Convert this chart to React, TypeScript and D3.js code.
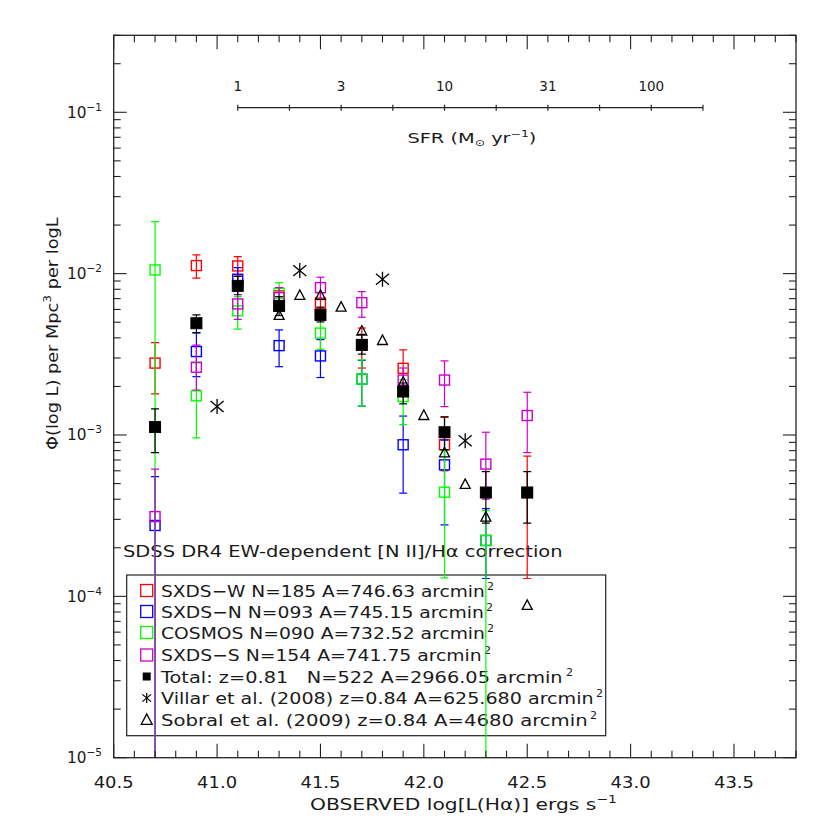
import React, { useLayoutEffect, useRef, useState } from "react";
import * as d3 from "d3";

// ---------------- data ----------------
const xTickValues = [40.5, 41.0, 41.5, 42.0, 42.5, 43.0, 43.5];
const xTickLabels = ["40.5", "41.0", "41.5", "42.0", "42.5", "43.0", "43.5"];
const yDecades = [1e-5, 1e-4, 1e-3, 1e-2, 1e-1];
const yExponents = ["\u22125", "\u22124", "\u22123", "\u22122", "\u22121"];

const sfrTickLum = [41.1, 41.35, 41.6, 41.85, 42.1, 42.35, 42.6, 42.85, 43.1, 43.35];
const sfrLabelLum = [41.1, 41.6, 42.1, 42.6, 43.1];
const sfrLabels = ["1", "3", "10", "31", "100"];

// SXDS-W (red)
const wLum = [40.7, 40.9, 41.1, 41.3, 41.5, 41.7, 41.9, 42.1, 42.5];
const wPhi = [0.00279, 0.01122, 0.01116, 0.00728, 0.00656, 0.0036, 0.00259, 0.00087, 0.00044];
const wHi = [0.00374, 0.01306, 0.01274, 0.0082, 0.0076, 0.0046, 0.00337, 0.0013, 0.00074];
const wLo = [0.0018, 0.00937, 0.0097, 0.0064, 0.0057, 0.0026, 0.002, 0.0006, 0.000129];

// SXDS-N (blue)
const nLum = [40.7, 40.9, 41.1, 41.3, 41.5, 41.7, 41.9, 42.1, 42.3];
const nPhi = [0.000275, 0.00329, 0.00923, 0.00358, 0.00309, 0.00222, 0.00087, 0.000653, 0.000222];
const nHi = [0.000552, 0.0043, 0.01089, 0.00448, 0.0039, 0.0029, 0.00131, 0.00093, 0.00035];
const nLo = [0, 0.0023, 0.0079, 0.00265, 0.00227, 0.00151, 0.000436, 0.000277, 0.000129];

// COSMOS (green)
const cLum = [40.7, 40.9, 41.1, 41.3, 41.5, 41.7, 41.9, 42.1, 42.3];
const cPhi = [0.01054, 0.00175, 0.00588, 0.00756, 0.00428, 0.00222, 0.00173, 0.000442, 0.000222];
const cHi = [0.021, 0.0028, 0.0072, 0.00879, 0.0053, 0.00292, 0.0022, 0.0008, 0.00034];
const cLo = [0, 0.00096, 0.00453, 0.0065, 0.0034, 0.00151, 0.00116, 0.00013, 0];

// SXDS-S (magenta)
const sLum = [40.7, 40.9, 41.1, 41.3, 41.5, 41.7, 41.9, 42.1, 42.3, 42.5];
const sPhi = [0.000312, 0.00263, 0.00649, 0.0071, 0.00819, 0.00661, 0.00219, 0.00219, 0.00066, 0.00132];
const sHi = [0.000614, 0.00361, 0.0079, 0.0082, 0.0095, 0.00774, 0.0026, 0.00288, 0.00104, 0.00184];
const sLo = [0, 0.0019, 0.0052, 0.0062, 0.0069, 0.00537, 0.0019, 0.0015, 0.0004, 0.000778];

// Total (black filled)
const tLum = [40.7, 40.9, 41.1, 41.3, 41.5, 41.7, 41.9, 42.1, 42.3, 42.5];
const tPhi = [0.00112, 0.00493, 0.0084, 0.00631, 0.00555, 0.00362, 0.00186, 0.00104, 0.00044, 0.00044];
const tHi = [0.00145, 0.00555, 0.0096, 0.0072, 0.0062, 0.0042, 0.0021, 0.00129, 0.000593, 0.000593];
const tLo = [0.000778, 0.00431, 0.0074, 0.0055, 0.00502, 0.00317, 0.00156, 0.00081, 0.000284, 0.000284];

// Villar et al. (2008)
const vLum = [41.0, 41.4, 41.8, 42.2];
const vPhi = [0.0015, 0.01044, 0.00923, 0.00092];

// Sobral et al. (2009)
const soLum = [41.3, 41.4, 41.5, 41.6, 41.7, 41.8, 41.9, 42.0, 42.1, 42.2, 42.3, 42.5];
const soPhi = [0.00555, 0.00738, 0.00738, 0.00625, 0.00444, 0.00388, 0.00214, 0.00133, 0.00078, 0.000498, 0.000312, 8.85e-5];

const legendLabels = [
  "SXDS\u2212W N=185 A=746.63 arcmin",
  "SXDS\u2212N N=093 A=745.15 arcmin",
  "COSMOS N=090 A=732.52 arcmin",
  "SXDS\u2212S N=154 A=741.75 arcmin",
  "Total: z=0.81   N=522 A=2966.05 arcmin",
  "Villar et al. (2008) z=0.84 A=625.680 arcmin",
  "Sobral et al. (2009) z=0.84 A=4680 arcmin",
];

// ---------------- layout ----------------
const X0 = 113.7, X1 = 796, Y0 = 35.3, Y1 = 757.7;
const FONT = "'DejaVu Sans', sans-serif";
const RED = "#ff0000", BLUE = "#0000ff", GREEN = "#00ff00", MAG = "#cc00cc";
const INK = "#1a1a1a";
const FW = 400;

const x = d3.scaleLinear().domain([40.5, 43.8]).range([X0, X1]);
const y = d3.scaleLog().domain([1e-5, 0.3]).range([Y1, Y0]);

type FitProps = {
  x: number; y: number; width: number; rotate?: number; fontSize?: number;
  anchor?: "start" | "middle" | "end"; children: React.ReactNode;
};
function FitText({ x: px, y: py, width, rotate = 0, fontSize = 16, anchor = "start", children }: FitProps) {
  const ref = useRef<SVGTextElement>(null);
  const [s, setS] = useState(1);
  useLayoutEffect(() => {
    if (ref.current) {
      const w = ref.current.getBBox().width;
      if (w > 0) setS(width / w);
    }
  }, [width]);
  const tx = anchor === "middle" ? -width / 2 : anchor === "end" ? -width : 0;
  return (
    <g transform={`translate(${px},${py}) rotate(${rotate})`}>
      <g transform={`translate(${tx},0) scale(${s},1)`}>
        <text ref={ref} x={0} y={0} fontSize={fontSize} fontWeight={FW} fill={INK} style={{ whiteSpace: "pre" }}>
          {children}
        </text>
      </g>
    </g>
  );
}

type Series = { lum: number[]; phi: number[]; hi: number[]; lo: number[]; color: string; filled: boolean };
const openSeries: Series[] = [
  { lum: wLum, phi: wPhi, hi: wHi, lo: wLo, color: RED, filled: false },
  { lum: nLum, phi: nPhi, hi: nHi, lo: nLo, color: BLUE, filled: false },
  { lum: cLum, phi: cPhi, hi: cHi, lo: cLo, color: GREEN, filled: false },
  { lum: sLum, phi: sPhi, hi: sHi, lo: sLo, color: MAG, filled: false },
  { lum: tLum, phi: tPhi, hi: tHi, lo: tLo, color: "#000", filled: true },
];

function ErrPoint({ s, i }: { s: Series; i: number }) {
  const cx = x(s.lum[i]);
  const cy = y(s.phi[i]);
  const yh = y(s.hi[i]);
  const loOff = s.lo[i] <= 1e-5;
  const yl = loOff ? Y1 + 2 : y(s.lo[i]);
  const cap = 4;
  const sz = s.filled ? 11 : 10;
  return (
    <g>
      <line x1={cx} x2={cx} y1={yh} y2={yl} stroke={s.color} strokeWidth={1.2} />
      <line x1={cx - cap} x2={cx + cap} y1={yh} y2={yh} stroke={s.color} strokeWidth={1.2} />
      {!loOff && <line x1={cx - cap} x2={cx + cap} y1={yl} y2={yl} stroke={s.color} strokeWidth={1.2} />}
      <rect
        x={cx - sz / 2}
        y={cy - sz / 2}
        width={sz}
        height={sz}
        fill={s.filled ? "#000" : "none"}
        stroke={s.color}
        strokeWidth={s.filled ? 1 : 1.4}
      />
    </g>
  );
}

function Asterisk({ cx, cy, r = 7.5, w = 1.3 }: { cx: number; cy: number; r?: number; w?: number }) {
  const dx = r * 0.87, dy = r * 0.73;
  return (
    <g stroke="#000" strokeWidth={w}>
      <line x1={cx} x2={cx} y1={cy - r} y2={cy + r} />
      <line x1={cx - dx} x2={cx + dx} y1={cy - dy} y2={cy + dy} />
      <line x1={cx - dx} x2={cx + dx} y1={cy + dy} y2={cy - dy} />
    </g>
  );
}

function Triangle({ cx, cy, r = 5 }: { cx: number; cy: number; r?: number }) {
  return (
    <path
      d={`M${cx - r},${cy + r * 0.9} L${cx},${cy - r} L${cx + r},${cy + r * 0.9} Z`}
      fill="none"
      stroke="#000"
      strokeWidth={1.3}
    />
  );
}

export default function App() {
  const xMinor = d3.range(40.5, 43.801, 0.1).map((v) => Math.round(v * 10) / 10);
  const yMinor: number[] = [];
  for (let e = -5; e <= -1; e++) {
    for (let m = 1; m <= 9; m++) {
      const v = m * Math.pow(10, e);
      if (v <= 0.3 + 1e-9) yMinor.push(v);
    }
  }
  const isMajorX = (v: number) => Math.abs(v * 2 - Math.round(v * 2)) < 1e-6;
  const isMajorY = (v: number) => Math.abs(Math.log10(v) - Math.round(Math.log10(v))) < 1e-6;

  const legendBase = [596.5, 617.5, 638.5, 661, 682.5, 704, 726];
  const legendEnd = [485, 484, 485, 482, 564, 594, 588];
  const legendColors = [RED, BLUE, GREEN, MAG];

  return (
    <svg
      width={830}
      height={830}
      style={{ display: "block", position: "absolute", left: 0, top: 0, fontFamily: FONT }}
      fontFamily={FONT}
    >
      <rect x={0} y={0} width={830} height={830} fill="#fff" />
      <defs>
        <clipPath id="plotclip">
          <rect x={X0} y={Y0} width={X1 - X0} height={Y1 - Y0} />
        </clipPath>
      </defs>

      {/* legend box */}
      <rect x={126.7} y={575} width={479} height={160.7} fill="none" stroke="#222" strokeWidth={1.2} />
      {legendLabels.map((t, i) => {
        const base = legendBase[i];
        const cy = base - 6;
        const sx = 146.7;
        let sym: React.ReactNode = null;
        if (i < 4) sym = <rect x={sx - 6} y={cy - 6} width={12} height={12} fill="none" stroke={legendColors[i]} strokeWidth={1.3} />;
        else if (i === 4) sym = <rect x={sx - 4} y={cy - 4} width={8} height={8} fill="#000" />;
        else if (i === 5) sym = <Asterisk cx={sx} cy={cy} r={5} w={1.2} />;
        else sym = <Triangle cx={sx} cy={cy - 0.5} r={5.5} />;
        return (
          <g key={i}>
            {sym}
            <FitText x={161} y={base} width={legendEnd[i] - 161}>{t}</FitText>
            <text x={legendEnd[i] + 2} y={base - 7} fontSize={11} fontWeight={FW} fill={INK}>2</text>
          </g>
        );
      })}

      {/* SDSS correction label */}
      <FitText x={123} y={557} width={440}>SDSS DR4 EW-dependent [N II]/H{"\u03b1"} correction</FitText>

      {/* SFR axis */}
      <line x1={x(sfrTickLum[0])} x2={x(sfrTickLum[sfrTickLum.length - 1])} y1={107.7} y2={107.7} stroke="#222" strokeWidth={1.2} />
      {sfrTickLum.map((v, i) => (
        <line key={i} x1={x(v)} x2={x(v)} y1={104.7} y2={110.7} stroke="#222" strokeWidth={1.2} />
      ))}
      {sfrLabels.map((t, i) => (
        <text key={i} x={x(sfrLabelLum[i])} y={90.5} fontSize={13.5} fontWeight={FW} textAnchor="middle" fill={INK}>{t}</text>
      ))}
      <FitText x={407.5} y={143} width={129} fontSize={14}>
        SFR (M<tspan fontSize={9} dy={3}>{"\u2299"}</tspan><tspan dy={-3}> yr</tspan>
        <tspan fontSize={9} dy={-6}>{"\u22121"}</tspan><tspan dy={6}>)</tspan>
      </FitText>

      {/* data */}
      <g clipPath="url(#plotclip)">
        {openSeries.map((s, si) => (
          <g key={si}>
            {s.lum.map((_, i) => <ErrPoint key={i} s={s} i={i} />)}
          </g>
        ))}
        {vLum.map((v, i) => <Asterisk key={i} cx={x(v)} cy={y(vPhi[i])} />)}
        {soLum.map((v, i) => <Triangle key={i} cx={x(v)} cy={y(soPhi[i])} />)}
      </g>

      {/* frame */}
      <rect x={X0} y={Y0} width={X1 - X0} height={Y1 - Y0} fill="none" stroke="#222" strokeWidth={1.3} />
      {xMinor.map((v, i) => {
        const L = isMajorX(v) ? 14 : 7;
        const px = x(v);
        return (
          <g key={i} stroke="#222" strokeWidth={1.1}>
            <line x1={px} x2={px} y1={Y1} y2={Y1 - L} />
            <line x1={px} x2={px} y1={Y0} y2={Y0 + L} />
          </g>
        );
      })}
      {yMinor.map((v, i) => {
        const L = isMajorY(v) ? 13 : 7;
        const py = y(v);
        return (
          <g key={i} stroke="#222" strokeWidth={1.1}>
            <line x1={X0} x2={X0 + L} y1={py} y2={py} />
            <line x1={X1} x2={X1 - L} y1={py} y2={py} />
          </g>
        );
      })}

      {/* x tick labels */}
      {xTickValues.map((v, i) => (
        <FitText key={i} x={x(v)} y={788} width={40} anchor="middle">{xTickLabels[i]}</FitText>
      ))}
      {/* y tick labels */}
      {yDecades.map((v, i) => (
        <FitText key={i} x={67} y={y(v) + 5.5} width={35}>
          10<tspan fontSize={11} dy={-7}>{yExponents[i]}</tspan>
        </FitText>
      ))}

      {/* axis titles */}
      <FitText x={310} y={810} width={307}>
        OBSERVED log[L(H{"\u03b1"})] ergs s<tspan fontSize={11} dy={-7}>{"\u22121"}</tspan>
      </FitText>
      <FitText x={58} y={450} width={233} rotate={-90}>
        {"\u03a6"}(log L) per Mpc<tspan fontSize={11} dy={-7}>3</tspan><tspan dy={7}> per logL</tspan>
      </FitText>
    </svg>
  );
}
